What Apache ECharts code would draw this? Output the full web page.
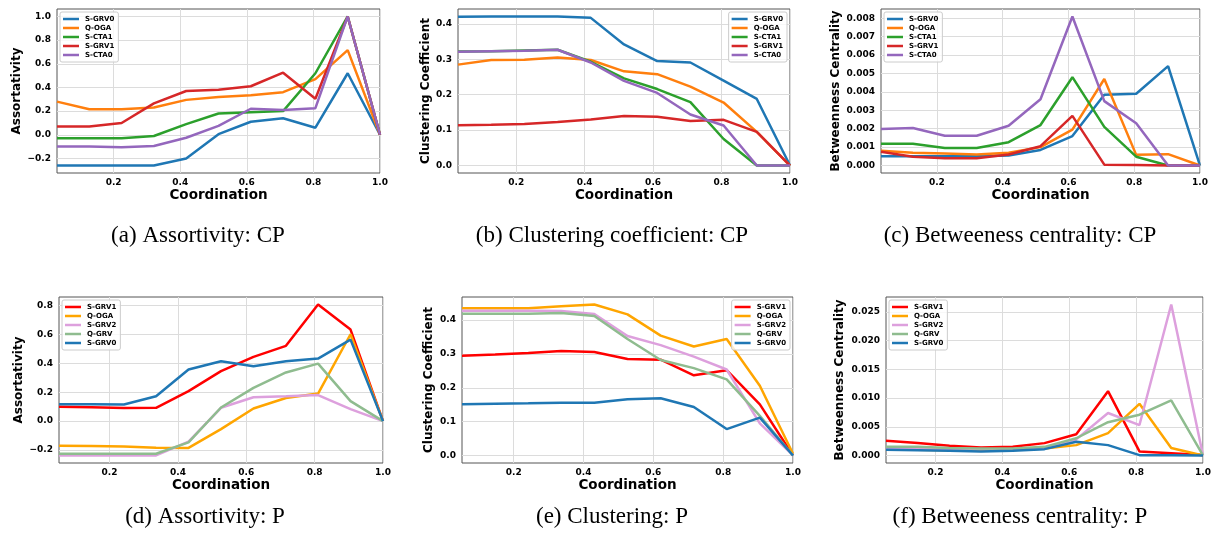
<!DOCTYPE html>
<html>
<head>
<meta charset="utf-8">
<title>Coordination metrics</title>
<script src="https://cdn.jsdelivr.net/npm/echarts@6/dist/echarts.min.js"></script>
<style>
  html, body { margin: 0; padding: 0; background: #fff; }
  #main { width: 1214px; height: 540px; }
</style>
</head>
<body>
<div id="main"></div>
<script>
// x positions (coordination) for the two rows
var xTop = [0.03, 0.127, 0.224, 0.321, 0.418, 0.515, 0.612, 0.709, 0.806, 0.903, 1.0];
var xBottom = [0.052, 0.147, 0.242, 0.336, 0.431, 0.526, 0.621, 0.716, 0.81, 0.905, 1.0];

// (a) assortivity CP
var cpAssortGRV0 = [-0.26, -0.26, -0.26, -0.26, -0.2, 0.005, 0.11, 0.14, 0.06, 0.52, 0.0];
var cpAssortOGA = [0.28, 0.215, 0.215, 0.23, 0.295, 0.32, 0.335, 0.36, 0.47, 0.715, 0.0];
var cpAssortCTA1 = [-0.03, -0.03, -0.03, -0.01, 0.09, 0.18, 0.19, 0.2, 0.52, 1.0, 0.0];
var cpAssortGRV1 = [0.07, 0.07, 0.1, 0.265, 0.37, 0.38, 0.41, 0.525, 0.305, 1.0, 0.0];
var cpAssortCTA0 = [-0.1, -0.1, -0.105, -0.095, -0.025, 0.075, 0.22, 0.21, 0.225, 1.0, 0.0];

// (b) clustering CP
var cpClustGRV0 = [0.42, 0.421, 0.421, 0.421, 0.417, 0.342, 0.295, 0.291, 0.24, 0.188, 0.0];
var cpClustOGA = [0.285, 0.298, 0.299, 0.305, 0.298, 0.266, 0.258, 0.223, 0.178, 0.095, 0.0];
var cpClustCTA1 = [0.322, 0.323, 0.325, 0.327, 0.293, 0.246, 0.216, 0.179, 0.075, 0.0, 0.0];
var cpClustGRV1 = [0.114, 0.115, 0.117, 0.123, 0.13, 0.14, 0.138, 0.126, 0.129, 0.095, 0.0];
var cpClustCTA0 = [0.321, 0.323, 0.324, 0.327, 0.291, 0.239, 0.205, 0.144, 0.113, 0.0, 0.0];

// (c) betweenness CP
var cpBetwGRV0 = [0.0005, 0.0005, 0.0005, 0.0005, 0.00055, 0.00085, 0.0016, 0.00385, 0.0039, 0.0054, 0.0];
var cpBetwOGA = [0.0008, 0.0007, 0.00065, 0.0006, 0.0007, 0.001, 0.00195, 0.0047, 0.00058, 0.00062, 0.0];
var cpBetwCTA1 = [0.00118, 0.00118, 0.00095, 0.00095, 0.00127, 0.0022, 0.0048, 0.0021, 0.00048, 0.0, 0.0];
var cpBetwGRV1 = [0.00075, 0.00048, 0.0004, 0.0004, 0.0006, 0.00105, 0.0027, 0.00005, 0.00003, 0.0, 0.0];
var cpBetwCTA0 = [0.00198, 0.00204, 0.00162, 0.00162, 0.00216, 0.0036, 0.0081, 0.0035, 0.0023, 0.0, 0.0];

// (d) assortivity P
var pAssortGRV1 = [0.1, 0.095, 0.09, 0.092, 0.207, 0.345, 0.444, 0.52, 0.805, 0.632, 0.0];
var pAssortOGA = [-0.17, -0.172, -0.175, -0.183, -0.185, -0.055, 0.087, 0.16, 0.19, 0.6, 0.0];
var pAssortGRV2 = [-0.237, -0.237, -0.237, -0.237, -0.142, 0.092, 0.165, 0.172, 0.18, 0.083, 0.0];
var pAssortQGRV = [-0.225, -0.225, -0.225, -0.225, -0.147, 0.094, 0.23, 0.336, 0.397, 0.138, 0.0];
var pAssortGRV0 = [0.117, 0.116, 0.115, 0.172, 0.356, 0.414, 0.379, 0.414, 0.432, 0.563, 0.0];

// (e) clustering P
var pClustGRV1 = [0.295, 0.298, 0.303, 0.309, 0.306, 0.285, 0.283, 0.237, 0.252, 0.151, 0.0];
var pClustOGA = [0.435, 0.435, 0.435, 0.441, 0.446, 0.417, 0.354, 0.322, 0.344, 0.206, 0.005];
var pClustGRV2 = [0.428, 0.428, 0.428, 0.427, 0.418, 0.353, 0.326, 0.292, 0.254, 0.095, 0.0];
var pClustQGRV = [0.419, 0.419, 0.419, 0.421, 0.412, 0.344, 0.282, 0.258, 0.225, 0.117, 0.0];
var pClustGRV0 = [0.151, 0.153, 0.154, 0.156, 0.156, 0.166, 0.169, 0.143, 0.078, 0.112, 0.0];

// (f) betweenness P
var pBetwGRV1 = [0.00255, 0.00215, 0.0017, 0.0014, 0.0015, 0.00215, 0.0037, 0.0112, 0.0007, 0.0004, 0.0001];
var pBetwOGA = [0.00105, 0.001, 0.0009, 0.0009, 0.00095, 0.0012, 0.0018, 0.0039, 0.009, 0.0013, 0.0];
var pBetwGRV2 = [0.0012, 0.0012, 0.0011, 0.0011, 0.0011, 0.0013, 0.0028, 0.0074, 0.0053, 0.0263, 0.0];
var pBetwQGRV = [0.0015, 0.0015, 0.0013, 0.0012, 0.0012, 0.0015, 0.003, 0.0058, 0.0071, 0.0096, 0.0];
var pBetwGRV0 = [0.001, 0.0009, 0.0008, 0.0007, 0.0008, 0.0011, 0.0024, 0.0018, 0.00005, 0.00005, 0.0];

var topNames = ['S-GRV0', 'Q-OGA', 'S-CTA1', 'S-GRV1', 'S-CTA0'];
var topColors = ['#1f77b4', '#ff7f0e', '#2ca02c', '#d62728', '#9467bd'];
var bottomNames = ['S-GRV1', 'Q-OGA', 'S-GRV2', 'Q-GRV', 'S-GRV0'];
var bottomColors = ['#ff0000', '#ffa500', '#dda0dd', '#8fbc8f', '#1f77b4'];

var xTicks = [0.2, 0.4, 0.6, 0.8, 1.0];
var yTicksA = [-0.2, 0.0, 0.2, 0.4, 0.6, 0.8, 1.0];
var yTicksB = [0.0, 0.1, 0.2, 0.3, 0.4];
var yTicksC = [0.0, 0.001, 0.002, 0.003, 0.004, 0.005, 0.006, 0.007, 0.008];
var yTicksD = [-0.2, 0.0, 0.2, 0.4, 0.6, 0.8];
var yTicksE = [0.0, 0.1, 0.2, 0.3, 0.4];
var yTicksF = [0.0, 0.005, 0.010, 0.015, 0.020, 0.025];

var captions = ['(a) Assortivity: CP', '(b) Clustering coefficient: CP', '(c) Betweeness centrality: CP',
  '(d) Assortivity: P', '(e) Clustering: P', '(f) Betweeness centrality: P'];

var panels = [
  { x: xTop, ys: [cpAssortGRV0, cpAssortOGA, cpAssortCTA1, cpAssortGRV1, cpAssortCTA0], names: topNames, colors: topColors,
    ticks: yTicksA, dec: 1, yName: 'Assortativity', nameGap: 34,
    grid: { left: 57, right: 834, top: 9, bottom: 367 }, legend: { left: 60, top: 12 }, cap: [198, 236] },
  { x: xTop, ys: [cpClustGRV0, cpClustOGA, cpClustCTA1, cpClustGRV1, cpClustCTA0], names: topNames, colors: topColors,
    ticks: yTicksB, dec: 1, yName: 'Clustering Coefficient', nameGap: 26,
    grid: { left: 458, right: 424, top: 9, bottom: 367 }, legend: { right: 427, top: 12 }, cap: [612, 236] },
  { x: xTop, ys: [cpBetwGRV0, cpBetwOGA, cpBetwCTA1, cpBetwGRV1, cpBetwCTA0], names: topNames, colors: topColors,
    ticks: yTicksC, dec: 3, yName: 'Betweenness Centrality', nameGap: 39,
    grid: { left: 881, right: 14, top: 9, bottom: 367 }, legend: { left: 884, top: 12 }, cap: [1020, 236] },
  { x: xBottom, ys: [pAssortGRV1, pAssortOGA, pAssortGRV2, pAssortQGRV, pAssortGRV0], names: bottomNames, colors: bottomColors,
    ticks: yTicksD, dec: 1, yName: 'Assortativity', nameGap: 34,
    grid: { left: 59, right: 831, top: 297, bottom: 77 }, legend: { left: 62, top: 300 }, cap: [205, 517] },
  { x: xBottom, ys: [pClustGRV1, pClustOGA, pClustGRV2, pClustQGRV, pClustGRV0], names: bottomNames, colors: bottomColors,
    ticks: yTicksE, dec: 1, yName: 'Clustering Coefficient', nameGap: 27,
    grid: { left: 462, right: 421, top: 297, bottom: 77 }, legend: { right: 424, top: 300 }, cap: [612, 517] },
  { x: xBottom, ys: [pBetwGRV1, pBetwOGA, pBetwGRV2, pBetwQGRV, pBetwGRV0], names: bottomNames, colors: bottomColors,
    ticks: yTicksF, dec: 3, yName: 'Betweenness Centrality', nameGap: 40,
    grid: { left: 886, right: 11, top: 297, bottom: 77 }, legend: { left: 889, top: 300 }, cap: [1020, 517] }
];

var font = 'DejaVu Sans';
var option = {
  animation: false,
  backgroundColor: '#fff',
  grid: [], xAxis: [], yAxis: [], legend: [], series: [], graphic: []
};

panels.forEach(function (p, k) {
  var all = [].concat.apply([], p.ys);
  var lo = Math.min.apply(null, all), hi = Math.max.apply(null, all);
  var pad = (hi - lo) * 0.05;
  var dec = p.dec;

  option.grid.push(Object.assign({ show: true, borderColor: '#555', borderWidth: 1 }, p.grid));
  option.xAxis.push({
    type: 'value', gridIndex: k, min: p.x[0], max: 1.0,
    name: 'Coordination', nameLocation: 'middle', nameGap: 15,
    nameTextStyle: { fontFamily: font, fontWeight: 'bold', fontSize: 13.5, color: '#000' },
    axisLine: { show: false }, axisTick: { show: false, customValues: xTicks },
    axisLabel: { customValues: xTicks, fontFamily: font, fontWeight: 'bold', fontSize: 9, color: '#000', margin: 5,
      formatter: function (v) { return v.toFixed(1); } },
    splitLine: { show: true, lineStyle: { color: '#dcdcdc', width: 1 } }
  });
  option.yAxis.push({
    type: 'value', gridIndex: k, min: lo - pad, max: hi + pad,
    name: p.yName, nameLocation: 'middle', nameGap: p.nameGap,
    nameTextStyle: { fontFamily: font, fontWeight: 'bold', fontSize: 12, color: '#000' },
    axisLine: { show: false }, axisTick: { show: false, customValues: p.ticks },
    axisLabel: { customValues: p.ticks, fontFamily: font, fontWeight: 'bold', fontSize: 9, color: '#000', margin: 6,
      formatter: function (v) { return v.toFixed(dec).replace('-', '\u2212'); } },
    splitLine: { show: true, lineStyle: { color: '#dcdcdc', width: 1 } }
  });
  option.legend.push(Object.assign({
    orient: 'vertical', icon: 'rect', itemWidth: 16, itemHeight: 2.5, itemGap: 1,
    padding: [3, 4, 3, 3], backgroundColor: 'rgba(255,255,255,0.8)', borderColor: '#ccc', borderWidth: 1, borderRadius: 2,
    selectedMode: false,
    textStyle: { fontFamily: font, fontWeight: 'bold', fontSize: 7, color: '#000', lineHeight: 8, padding: [0, 0, 0, 1] },
    data: p.names.map(function (n, i) { return { name: n, itemStyle: { color: p.colors[i] } }; })
  }, p.legend));
  p.ys.forEach(function (vals, i) {
    option.series.push({
      type: 'line', name: p.names[i], xAxisIndex: k, yAxisIndex: k,
      symbol: 'none', silent: true,
      lineStyle: { color: p.colors[i], width: 2.5 },
      itemStyle: { color: p.colors[i] },
      data: p.x.map(function (x, j) { return [x, vals[j]]; })
    });
  });
  option.graphic.push({
    type: 'text', x: p.cap[0], y: p.cap[1],
    style: { text: captions[k], font: '23px "Liberation Serif"', fill: '#000', align: 'center', verticalAlign: 'middle' }
  });
});

var myChart = echarts.init(document.getElementById('main'));
myChart.setOption(option);
</script>
</body>
</html>
